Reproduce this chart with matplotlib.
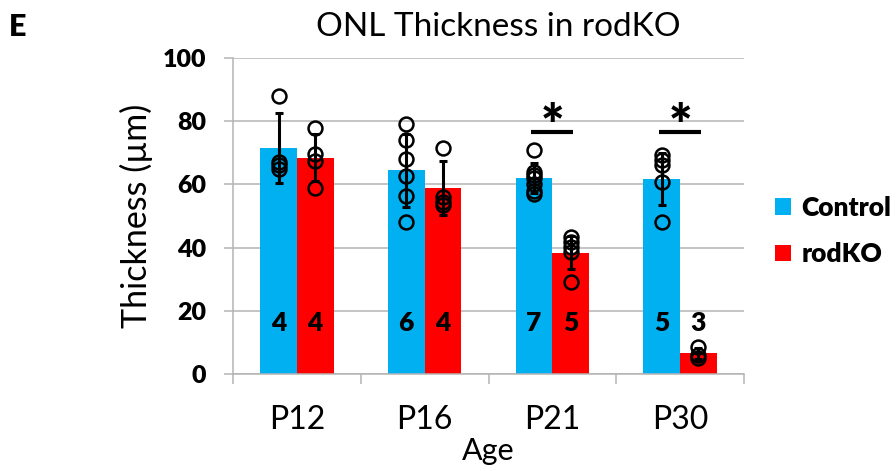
import matplotlib
matplotlib.use("Agg")
import matplotlib.pyplot as plt
import numpy as np

plt.rcParams['font.family'] = ['Lato', 'DejaVu Sans']

ages = ["P12", "P16", "P21", "P30"]
control_mean = [71.6, 64.5, 62.0, 61.8]
rodko_mean = [68.5, 58.9, 38.4, 6.5]
control_sd = [11.0, 11.5, 4.7, 8.2]
rodko_sd = [7.5, 8.6, 5.3, 1.8]
control_points = [
    [88.0, 67.0, 66.0, 65.0],
    [79.0, 74.2, 67.9, 62.7, 56.2, 48.0],
    [71.0, 64.0, 63.0, 62.0, 60.0, 58.0, 57.0],
    [69.2, 67.6, 66.0, 60.8, 48.0],
]
rodko_points = [
    [78.0, 69.5, 67.5, 59.0],
    [71.6, 56.0, 54.4, 53.4],
    [43.4, 41.8, 40.2, 38.6, 29.2],
    [8.5, 6.0, 5.0],
]
control_n = ["4", "6", "7", "5"]
rodko_n = ["4", "4", "5", "3"]
significant = [False, False, True, True]
sig_level = 76.6
n_label_y = 16
yticks = [0, 20, 40, 60, 80, 100]

BLUE = "#00B0F0"
RED = "#FF0000"
GRID = "#b4b4b4"
BOLD = 'heavy'

fig = plt.figure(figsize=(8.96, 4.71), dpi=100)
ax = fig.add_axes([233/896, 1-374/471, (744-233)/896, (374-58)/471])

x = np.arange(len(ages))
w = 0.287
xc = x - w/2
xr = x + w/2

ax.bar(xc, control_mean, w, color=BLUE, label="Control", zorder=2)
ax.bar(xr, rodko_mean, w, color=RED, label="rodKO", zorder=2)

ax.errorbar(xc, control_mean, yerr=control_sd, fmt='none', ecolor='black',
            elinewidth=2.2, capsize=3, capthick=2.2, zorder=3)
ax.errorbar(xr, rodko_mean, yerr=rodko_sd, fmt='none', ecolor='black',
            elinewidth=2.2, capsize=3, capthick=2.2, zorder=3)

for i in range(len(ages)):
    ax.plot([xc[i]]*len(control_points[i]), control_points[i], 'o', ms=10,
            mfc='none', mec='black', mew=1.8, zorder=4, clip_on=False)
    ax.plot([xr[i]]*len(rodko_points[i]), rodko_points[i], 'o', ms=10,
            mfc='none', mec='black', mew=1.8, zorder=4, clip_on=False)
    ax.text(xc[i], n_label_y, control_n[i], ha='center', va='center',
            fontsize=19, fontweight=BOLD, zorder=5)
    ax.text(xr[i], n_label_y, rodko_n[i], ha='center', va='center',
            fontsize=19, fontweight=BOLD, zorder=5)
    if significant[i]:
        ax.plot([x[i]-0.165, x[i]+0.165], [sig_level, sig_level], color='black',
                lw=3, solid_capstyle='butt', zorder=5)
        ax.text(x[i], sig_level - 7.0, "*", ha='center', va='bottom',
                fontsize=40, fontweight=BOLD, zorder=5)

ax.set_xlim(-0.5, len(ages)-0.5)
ax.set_ylim(0, 100)
ax.set_yticks(yticks)
ax.set_yticklabels([str(v) for v in yticks], fontsize=18, fontweight=BOLD)
ax.set_xticks(x)
ax.set_xticklabels(ages, fontsize=23)
ax.set_xticks(np.arange(-0.5, len(ages), 1.0), minor=True)
ax.tick_params(axis='x', which='major', length=0, pad=22)
ax.tick_params(axis='x', which='minor', length=7.2, width=1.1, color=GRID)
ax.tick_params(axis='y', which='major', length=6.5, width=1.1, color=GRID, pad=13)

ax.yaxis.grid(True, color=GRID, lw=1.1, zorder=0)
ax.set_axisbelow(True)
for s in ['top', 'right']:
    ax.spines[s].set_visible(False)
for s in ['left', 'bottom']:
    ax.spines[s].set_color(GRID)
    ax.spines[s].set_linewidth(1.1)

ax.set_ylabel("Thickness (µm)", fontsize=24.5, labelpad=7)
ax.set_xlabel("Age", fontsize=22, labelpad=2)

fig.text(498/896, 1-27/471, "ONL Thickness in rodKO", ha='center', va='center',
         fontsize=24)
fig.text(18/896, 1-27/471, "E", ha='center', va='center', fontsize=22,
         fontweight=BOLD)

leg = ax.legend(loc='center left', bbox_to_anchor=(775/896, 1-231/471),
                bbox_transform=fig.transFigure, frameon=False, borderpad=0,
                borderaxespad=0, handlelength=0.6, handleheight=0.6,
                handletextpad=0.4, labelspacing=0.85,
                prop={'size': 19, 'weight': BOLD})

fig.savefig("out.png", dpi=100)
